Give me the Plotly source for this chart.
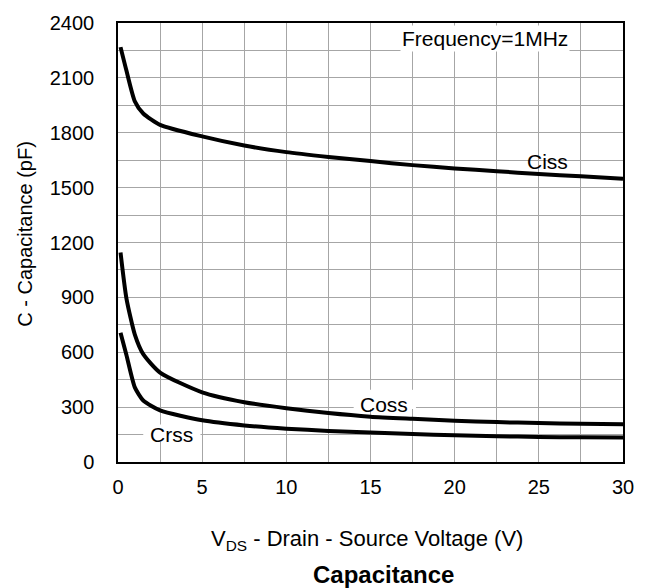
import plotly.graph_objects as go

# Drain-source voltage sample points (V)
vds = [0.15, 0.5, 1.0, 1.5, 2.5, 5, 7.5, 10, 12.5, 15, 17.5, 20, 22.5, 25, 27.5, 30]

# Capacitances (pF)
ciss = [2268, 2140, 1972, 1905, 1843, 1780, 1730, 1694, 1668, 1645, 1623, 1605, 1590, 1574, 1562, 1549]
coss = [1145, 895, 697, 590, 489, 381, 327, 294, 268, 248, 236, 225, 218, 213, 209, 206]
crss = [706, 585, 408, 336, 282, 228, 200, 182, 170, 161, 153, 146, 141, 137, 135, 134]

x_ticks = [0, 5, 10, 15, 20, 25, 30]
y_ticks = [0, 300, 600, 900, 1200, 1500, 1800, 2100, 2400]

FONT = "Liberation Sans, Arial, sans-serif"
GRID = "#a6a6a6"

W, H = 646, 588
L, R, T, B = 118, 22, 20, 126
plot_w, plot_h = W - L - R, H - T - B


def px_x(px):
    """Horizontal pixel position -> paper coordinate."""
    return (px - L) / plot_w


def px_y(py):
    """Vertical pixel position -> paper coordinate."""
    return (H - B - py) / plot_h


fig = go.Figure()
for name, vals in (("Ciss", ciss), ("Coss", coss), ("Crss", crss)):
    fig.add_trace(go.Scatter(
        x=vds, y=vals, name=name, mode="lines",
        line=dict(color="black", width=4, shape="spline", smoothing=0.6),
        showlegend=False,
    ))

axis_common = dict(
    showline=True, linecolor="black", linewidth=1.5, mirror=True,
    showgrid=True, gridcolor=GRID, gridwidth=1,
    zeroline=False, ticks="",
    tickfont=dict(family=FONT, size=20, color="black"),
)

fig.update_xaxes(
    range=[0, 30], tickvals=x_ticks,
    minor=dict(dtick=2.5, showgrid=True, gridcolor=GRID, gridwidth=1),
    ticklabelstandoff=6,
    **axis_common,
)
fig.update_yaxes(
    range=[0, 2400], tickvals=y_ticks,
    minor=dict(dtick=150, showgrid=True, gridcolor=GRID, gridwidth=1),
    ticklabelstandoff=18,
    **axis_common,
)

ann_font = dict(family=FONT, size=21, color="black")

# White patches that break the grid behind the Coss / Crss labels,
# drawn between the grid and the curves so the curves stay on top.
for x0, x1, y0, y1 in ((14.0, 17.7, 290, 395), (1.5, 4.9, 110, 205)):
    fig.add_shape(
        type="rect", xref="x", yref="y", x0=x0, x1=x1, y0=y0, y1=y1,
        fillcolor="white", line=dict(width=0), layer="between",
    )

labels = [
    (25.5, 1641, "Ciss", None),
    (15.8, 312, "Coss", None),
    (3.2, 152, "Crss", None),
    (21.8, 2318, "Frequency=1MHz", "white"),
]
for x, y, text, bg in labels:
    fig.add_annotation(
        x=x, y=y, xref="x", yref="y", text=text, showarrow=False,
        font=ann_font, bgcolor=bg, borderpad=1,
    )

# Axis titles and chart caption
fig.add_annotation(
    x=px_x(24), y=px_y(232), xref="paper", yref="paper", textangle=-90,
    xanchor="center", yanchor="middle",
    text="C - Capacitance (pF)", showarrow=False,
    font=dict(family=FONT, size=20, color="black"),
)
fig.add_annotation(
    x=px_x(367), y=px_y(541), xref="paper", yref="paper",
    xanchor="center", yanchor="middle",
    text="V<sub>DS</sub> - Drain - Source Voltage (V)",
    showarrow=False, font=dict(family=FONT, size=22, color="black"),
)
fig.add_annotation(
    x=px_x(384), y=px_y(575), xref="paper", yref="paper",
    xanchor="center", yanchor="middle",
    text="<b>Capacitance</b>",
    showarrow=False, font=dict(family=FONT, size=24, color="black"),
)

fig.update_layout(
    width=W, height=H,
    margin=dict(l=L, r=R, t=T, b=B),
    paper_bgcolor="white", plot_bgcolor="white",
    font=dict(family=FONT, color="black"),
)

fig.write_html("out.html")
